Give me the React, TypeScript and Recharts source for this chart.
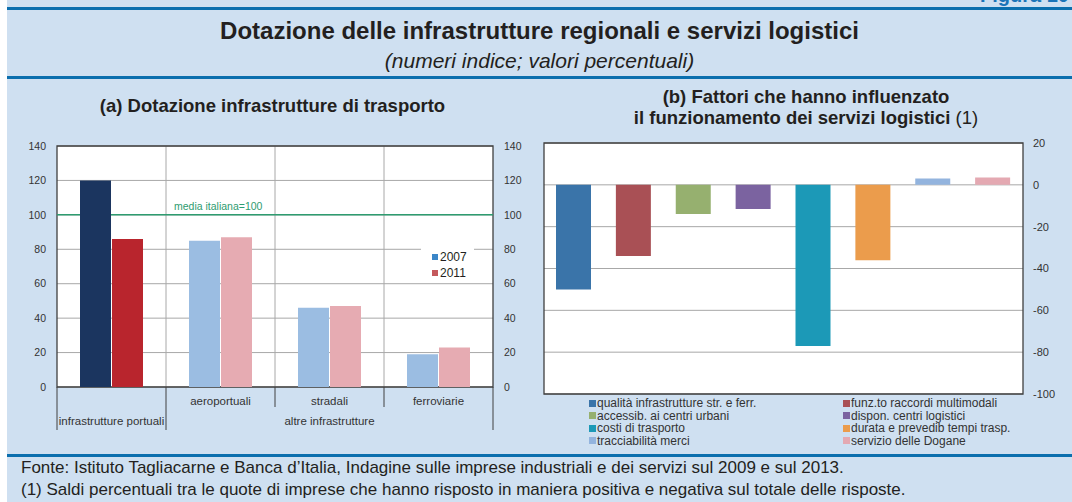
import { Bar, BarChart, CartesianGrid, Cell, Legend, ReferenceArea, ReferenceLine, XAxis, YAxis } from "recharts";

// (a) dotazione infrastrutture di trasporto
const transportCategories = ["infrastrutture portuali", "aeroportuali", "stradali", "ferroviarie"];
const transportTierLabels = ["", "aeroportuali", "stradali", "ferroviarie"];
const transportGroups = [
  { label: "infrastrutture portuali", start: 0, span: 1 },
  { label: "altre infrastrutture", start: 1, span: 3 },
];
const values2007 = [120, 85, 46, 19];
const values2011 = [86, 87, 47, 23];
const transportTicks = [0, 20, 40, 60, 80, 100, 120, 140];
const yearLabels = ["2007", "2011"];
const mediaItaliana = 100;

// (b) fattori che hanno influenzato i servizi logistici
const factorLabels = [
  "qualità infrastrutture str. e ferr.",
  "funz.to raccordi multimodali",
  "accessib. ai centri urbani",
  "dispon. centri logistici",
  "costi di trasporto",
  "durata e prevedib tempi trasp.",
  "tracciabilità merci",
  "servizio delle Dogane",
];
const factorValues = [-50, -34, -14, -11.5, -77, -36, 3, 3.5];
const factorTicks = [-100, -80, -60, -40, -20, 0, 20];

const COLORS_2007 = ["#1b355f", "#9bbde2", "#9bbde2", "#9bbde2"];
const COLORS_2011 = ["#b9252d", "#e6abb2", "#e6abb2", "#e6abb2"];
const LEGEND_YEAR_COLORS = ["#3b86c8", "#c4595c"];
const FACTOR_COLORS = ["#3a74a9", "#a95055", "#96b06f", "#7b63a0", "#1c99b7", "#eb9c4c", "#93b4de", "#e4a9b2"];

const BG = "#cfe0f1";
const RULE = "#0b6fae";
const FRAME = "#404040";
const GRID = "#a8a8a8";
const TEXT = "#231f20";
const GREEN = "#2e9c70";

// geometria pannello (a)
const A_W = 540;
const A_H = 310;
const A_LEFT_AXIS = 57;
const A_RIGHT_AXIS = 47;
const A_TOP = 16;
const A_XAXIS_H = 53;
const A_BAND = (A_W - A_LEFT_AXIS - A_RIGHT_AXIS) / transportCategories.length;
const A_DOMAIN: [number, number] = [0, 140];

const transportData = transportCategories.map((name, i) => ({
  name,
  v2007: values2007[i],
  v2011: values2011[i],
}));

const factorData = factorLabels.map((name, i) => ({ name, value: factorValues[i] }));

function isGroupBoundary(b: number): boolean {
  return b === transportCategories.length || transportGroups.some((g) => g.start === b);
}

function TransportTick(props: any) {
  const { x, y, payload } = props;
  const i: number = payload.index;
  const left = x - A_BAND / 2;
  const right = x + A_BAND / 2;
  const lineLen = (b: number) => (isGroupBoundary(b) ? 43 : 20);
  const group = transportGroups.find((g) => g.start === i);
  return (
    <g>
      <line x1={left} x2={left} y1={y} y2={y + lineLen(i)} stroke={FRAME} strokeWidth={1} />
      {i === transportCategories.length - 1 && (
        <line x1={right} x2={right} y1={y} y2={y + lineLen(i + 1)} stroke={FRAME} strokeWidth={1} />
      )}
      <text x={x} y={y + 14} dy="0.355em" textAnchor="middle" fontSize={11.5} fill="#333">
        {transportTierLabels[i]}
      </text>
      {group && (
        <text
          x={left + (group.span * A_BAND) / 2}
          y={y + 34}
          dy="0.355em"
          textAnchor="middle"
          fontSize={11.5}
          fill="#333"
        >
          {group.label}
        </text>
      )}
    </g>
  );
}

function YearLegend() {
  return (
    <div style={{ background: "#fff", width: 53, height: 35, paddingTop: 2, boxSizing: "border-box" }}>
      {yearLabels.map((label, i) => (
        <div key={label} style={{ display: "flex", alignItems: "center", height: 16, paddingLeft: 11 }}>
          <span style={{ width: 6, height: 6, background: LEGEND_YEAR_COLORS[i], marginRight: 2 }} />
          <span style={{ fontSize: 12, color: TEXT, lineHeight: "16px" }}>{label}</span>
        </div>
      ))}
    </div>
  );
}

function FactorLegend() {
  return (
    <div style={{ display: "grid", gridTemplateColumns: "254px 254px", paddingLeft: 59 }}>
      {factorLabels.map((label, i) => (
        <div key={label} style={{ display: "flex", alignItems: "center", height: 12.5 }}>
          <span style={{ width: 7, height: 7, background: FACTOR_COLORS[i], marginRight: 1, flex: "none" }} />
          <span style={{ fontSize: 12, color: "#333", lineHeight: "12.5px", whiteSpace: "nowrap" }}>{label}</span>
        </div>
      ))}
    </div>
  );
}

function MediaLabel(props: any) {
  const { viewBox } = props;
  return (
    <text x={viewBox.x + A_BAND + 8} y={viewBox.y - 5} fontSize={10.5} fill={GREEN}>
      media italiana={mediaItaliana}
    </text>
  );
}

// strato di fondo: assi, griglia, cornice e linea della media (sotto le barre)
function TransportBackdrop() {
  return (
    <BarChart
      width={A_W}
      height={A_H}
      data={transportData}
      margin={{ top: A_TOP, right: 0, left: 0, bottom: 0 }}
      barGap={1}
      barCategoryGap={23}
    >
      <CartesianGrid
        stroke={GRID}
        fill="#fff"
        verticalCoordinatesGenerator={() =>
          transportCategories.slice(1).map((_, i) => A_LEFT_AXIS + (i + 1) * A_BAND)
        }
      />
      <XAxis
        dataKey="name"
        height={A_XAXIS_H}
        interval={0}
        tickLine={false}
        tickSize={0}
        tickMargin={0}
        axisLine={false}
        tick={(p: any) => <TransportTick {...p} />}
      />
      <YAxis
        width={A_LEFT_AXIS}
        domain={A_DOMAIN}
        ticks={transportTicks}
        tickLine={false}
        tickMargin={5}
        axisLine={false}
        tick={{ fontSize: 10.5, fill: "#333" }}
      />
      <YAxis
        yAxisId="r"
        orientation="right"
        width={A_RIGHT_AXIS}
        domain={A_DOMAIN}
        ticks={transportTicks}
        tickLine={false}
        tickMargin={5}
        axisLine={false}
        tick={{ fontSize: 10.5, fill: "#333" }}
      />
      {/* serie invisibili: servono solo a dare un dominio agli assi */}
      <Bar dataKey="v2007" fill="none" barSize={31} isAnimationActive={false} legendType="none" />
      <Bar dataKey="v2011" fill="none" barSize={31} isAnimationActive={false} legendType="none" />
      <Bar yAxisId="r" dataKey="v2007" fill="none" barSize={0} isAnimationActive={false} legendType="none" />
      <ReferenceArea y1={A_DOMAIN[0]} y2={A_DOMAIN[1]} fill="none" fillOpacity={0} stroke={FRAME} strokeWidth={1.3} />
      <ReferenceLine y={mediaItaliana} stroke={GREEN} strokeWidth={1.5} label={<MediaLabel />} />
      <Legend
        layout="vertical"
        align="center"
        verticalAlign="middle"
        wrapperStyle={{ left: 421, top: 117, width: 53, height: 35 }}
        content={() => <YearLegend />}
      />
    </BarChart>
  );
}

// strato superiore: solo le barre, con la stessa area di disegno
function TransportBars() {
  return (
    <BarChart
      width={A_W}
      height={A_H}
      data={transportData}
      margin={{ top: A_TOP, right: A_RIGHT_AXIS, left: A_LEFT_AXIS, bottom: A_XAXIS_H }}
      barGap={1}
      barCategoryGap={23}
    >
      <XAxis dataKey="name" hide />
      <YAxis domain={A_DOMAIN} ticks={transportTicks} hide />
      <Bar dataKey="v2007" name="2007" barSize={31} isAnimationActive={false}>
        {transportData.map((d, i) => (
          <Cell key={d.name} fill={COLORS_2007[i]} />
        ))}
      </Bar>
      <Bar dataKey="v2011" name="2011" barSize={31} isAnimationActive={false}>
        {transportData.map((d, i) => (
          <Cell key={d.name} fill={COLORS_2011[i]} />
        ))}
      </Bar>
    </BarChart>
  );
}

function FactorChart() {
  return (
    <BarChart
      width={542}
      height={320}
      data={factorData}
      margin={{ top: 13, right: 0, left: 14, bottom: 56 }}
    >
      <CartesianGrid stroke={GRID} fill="#fff" vertical={false} />
      <XAxis dataKey="name" hide />
      <YAxis
        orientation="right"
        width={49}
        domain={[-100, 20]}
        ticks={factorTicks}
        tickLine={false}
        tickMargin={4}
        axisLine={false}
        tick={{ fontSize: 11, fill: "#333" }}
      />
      <ReferenceArea y1={-100} y2={20} fill="none" fillOpacity={0} stroke={FRAME} strokeWidth={1.3} />
      <Legend
        layout="vertical"
        align="center"
        verticalAlign="middle"
        wrapperStyle={{ left: 0, top: 267, width: 542, height: 50 }}
        content={() => <FactorLegend />}
      />
      <Bar dataKey="value" barSize={35} isAnimationActive={false}>
        {factorData.map((d, i) => (
          <Cell key={d.name} fill={FACTOR_COLORS[i]} />
        ))}
      </Bar>
    </BarChart>
  );
}

const abs = (left: number, top: number, extra: React.CSSProperties = {}): React.CSSProperties => ({
  position: "absolute",
  left,
  top,
  ...extra,
});

export default function App() {
  return (
    <div
      style={{
        position: "absolute",
        left: 0,
        top: 0,
        width: 1072,
        height: 502,
        overflow: "hidden",
        background: "#fff",
        fontFamily: '"Liberation Sans", Arial, sans-serif',
        color: TEXT,
      }}
    >
      <div style={abs(7, 0, { width: 1065, height: 502, background: BG })} />
      <div style={abs(980, -17, { fontSize: 20, fontWeight: "bold", color: "#1a74b8", whiteSpace: "nowrap", lineHeight: "24px" })}>
        Figura 10
      </div>
      <div style={abs(7, 7, { width: 1065, height: 3, background: RULE })} />
      <div style={abs(7, 17, { width: 1065, textAlign: "center", fontSize: 24, fontWeight: "bold", lineHeight: "28px" })}>
        Dotazione delle infrastrutture regionali e servizi logistici
      </div>
      <div style={abs(7, 49, { width: 1065, textAlign: "center", fontSize: 21, fontStyle: "italic", lineHeight: "24px" })}>
        (numeri indice; valori percentuali)
      </div>
      <div style={abs(7, 76, { width: 1065, height: 3, background: RULE })} />

      <div style={abs(0, 95, { width: 545, textAlign: "center", fontSize: 18.5, fontWeight: "bold", lineHeight: "22px" })}>
        (a) Dotazione infrastrutture di trasporto
      </div>
      <div style={abs(530, 86, { width: 552, textAlign: "center", fontSize: 18.5, fontWeight: "bold", lineHeight: "21px" })}>
        (b) Fattori che hanno influenzato
        <br />
        il funzionamento dei servizi logistici <span style={{ fontWeight: "normal" }}>(1)</span>
      </div>

      <div style={abs(0, 130)}>
        <TransportBackdrop />
      </div>
      <div style={abs(0, 130)}>
        <TransportBars />
      </div>
      <div style={abs(530, 130)}>
        <FactorChart />
      </div>

      <div style={abs(7, 454, { width: 1065, height: 3, background: RULE })} />
      <div style={abs(21, 457, { fontSize: 17, lineHeight: "22px", whiteSpace: "nowrap" })}>
        Fonte: Istituto Tagliacarne e Banca d’Italia, Indagine sulle imprese industriali e dei servizi sul 2009 e sul 2013.
        <br />
        (1) Saldi percentuali tra le quote di imprese che hanno risposto in maniera positiva e negativa sul totale delle risposte.
      </div>
    </div>
  );
}
